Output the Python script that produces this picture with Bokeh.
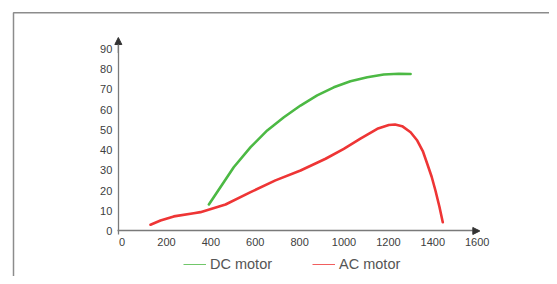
from bokeh.plotting import figure
from bokeh.models import (Range1d, LinearAxis, FixedTicker, Legend, LegendItem,
                          Arrow, NormalHead)
from bokeh.embed import file_html
from bokeh.resources import INLINE

# ---- data ----
ac_speed = [128, 173, 233, 323, 353, 466, 579, 691, 804, 917, 999, 1074, 1150,
            1202, 1230, 1262, 1300, 1330, 1355, 1375, 1395, 1412, 1430, 1445]
ac_value = [3.1, 5.2, 7.2, 8.8, 9.3, 13.1, 19.2, 25.0, 29.9, 35.7, 40.6, 45.6, 50.5,
            52.4, 52.6, 51.8, 48.8, 44.7, 39.5, 33.2, 26.8, 20.0, 12.0, 4.3]

dc_speed = [391, 458, 503, 579, 654, 729, 804, 879, 954, 1029, 1105, 1179, 1247, 1300]
dc_value = [13.1, 24.1, 31.5, 41.4, 49.7, 56.2, 62.0, 67.0, 71.0, 74.0, 76.0, 77.3, 77.7, 77.6]

x_ticks = [0, 200, 400, 600, 800, 1000, 1200, 1400, 1600]
y_ticks = [0, 10, 20, 30, 40, 50, 60, 70, 80, 90]

series_labels = ["DC motor", "AC motor"]
green = "#4cb944"
red = "#ee3535"
axis_gray = "#7a7a7a"
FONT = "Liberation Sans"

W, H = 549, 276
p = figure(width=W, height=H, output_backend="svg", toolbar_location=None,
           x_range=Range1d(-548, 1926), y_range=Range1d(-22.5, 113.9),
           x_axis_location=None, y_axis_location=None,
           min_border=0, min_border_left=0, min_border_right=0,
           min_border_top=0, min_border_bottom=0)
p.outline_line_color = None
p.grid.grid_line_color = None
p.background_fill_color = "white"
p.border_fill_color = "white"

# outer frame of the picture (only left and top edges are inside the view)
p.line([-489.4, -489.4, 3000], [-100, 107.8, 107.8],
       line_color="#8c8c8c", line_width=1.5)

# axes
xaxis = LinearAxis(fixed_location=0, ticker=FixedTicker(ticks=x_ticks), bounds=(-22, 1606))
yaxis = LinearAxis(fixed_location=-17, ticker=FixedTicker(ticks=y_ticks), bounds=(-1.5, 93))
for ax in (xaxis, yaxis):
    ax.axis_line_color = axis_gray
    ax.axis_line_width = 1.3
    ax.major_tick_out = 0
    ax.major_tick_in = 0
    ax.minor_tick_out = 0
    ax.minor_tick_in = 0
    ax.major_label_text_font = FONT
    ax.major_label_text_font_size = "11px"
    ax.major_label_text_color = "#404040"
xaxis.major_label_standoff = 7
yaxis.major_label_standoff = 6
p.add_layout(xaxis, "below")
p.add_layout(yaxis, "left")

# axis arrow heads
p.add_layout(Arrow(x_start=1580, y_start=0, x_end=1612, y_end=0, line_color=axis_gray,
                   line_width=1.3,
                   end=NormalHead(size=7, fill_color="#333333", line_color="#333333")))
p.add_layout(Arrow(x_start=-17, y_start=88, x_end=-17, y_end=95.6, line_color=axis_gray,
                   line_width=1.3,
                   end=NormalHead(size=7, fill_color="#333333", line_color="#333333")))

# thin copies used as legend keys (hidden beneath the thick curves)
g_leg = p.line(dc_speed, dc_value, line_color=green, line_width=0.8)
r_leg = p.line(ac_speed, ac_value, line_color=red, line_width=0.8)

# curves
p.line(dc_speed, dc_value, line_color=green, line_width=2.6, line_cap="round", line_join="round")
p.line(ac_speed, ac_value, line_color=red, line_width=2.6, line_cap="round", line_join="round")

legend = Legend(items=[LegendItem(label=series_labels[0], renderers=[g_leg]),
                       LegendItem(label=series_labels[1], renderers=[r_leg])],
                orientation="horizontal", location=(183, 4),
                glyph_width=23, glyph_height=14, label_height=14, label_standoff=4,
                spacing=40, padding=0, margin=0,
                border_line_color=None, background_fill_alpha=0,
                label_text_font=FONT, label_text_font_size="14.5px",
                label_text_color="#555555")
p.add_layout(legend)

open("out.html", "w").write(file_html(p, INLINE))
